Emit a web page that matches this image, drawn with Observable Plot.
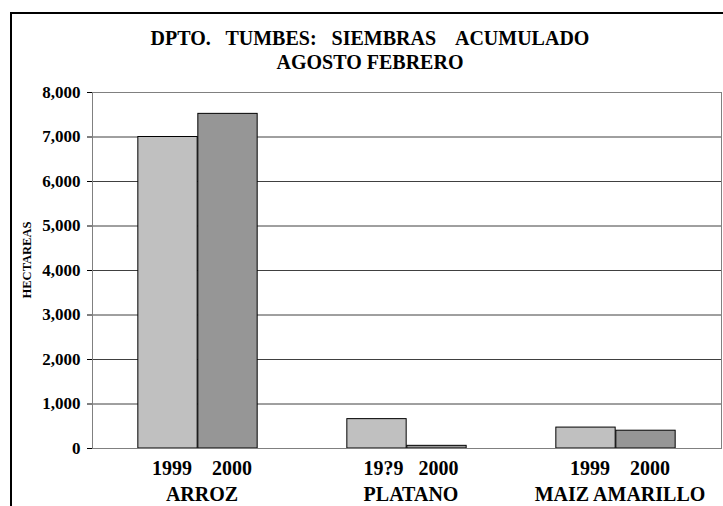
<!DOCTYPE html>
<html><head><meta charset="utf-8">
<script src="https://cdn.jsdelivr.net/npm/d3@7"></script>
<script src="https://cdn.jsdelivr.net/npm/@observablehq/plot@0.6"></script>
<style>
body{margin:0;background:#fff;}
#wrap{position:relative;width:723px;height:506px;overflow:hidden;font-family:"Liberation Serif","Times New Roman",serif;font-weight:bold;color:#000;}
#border{position:absolute;left:10px;top:12px;width:800px;height:600px;border-top:2px solid #000;border-left:2px solid #000;}
#title{position:absolute;left:370px;top:26px;transform:translateX(-50%);font-size:20px;line-height:24px;text-align:center;white-space:pre;}
#ylab{position:absolute;left:27px;top:260px;transform:translate(-50%,-50%) rotate(-90deg);font-size:12.5px;white-space:nowrap;}
#chart{position:absolute;left:0;top:0;}
svg text{white-space:pre;}
</style></head>
<body>
<div id="wrap">
  <div id="border"></div>
  <div id="chart"></div>
  <div id="title">DPTO.   TUMBES:   SIEMBRAS    ACUMULADO
AGOSTO FEBRERO</div>
  <div id="ylab">HECTAREAS</div>
</div>
<script>
const crops = ["ARROZ", "PLATANO", "MAIZ AMARILLO"];
const years = ["1999", "2000"];
const values1999 = [7000, 660, 470];
const values2000 = [7520, 60, 400];
const yearLabels = ["1999    2000", "19?9   2000", "1999    2000"];
const yTicks = [0, 1000, 2000, 3000, 4000, 5000, 6000, 7000, 8000];

const W = 723, H = 506, mL = 92, mR = 2, mT = 92, mB = 58;
const bw = (W - mL - mR) / crops.length;
const barW = 60;

const rows1999 = crops.map((c, i) => ({crop: c, year: years[0], value: values1999[i]}));
const rows2000 = crops.map((c, i) => ({crop: c, year: years[1], value: values2000[i]}));

const chart = Plot.plot({
  width: W, height: H,
  marginLeft: mL, marginRight: mR, marginTop: mT, marginBottom: mB,
  style: {fontFamily: "'Liberation Serif', 'Times New Roman', serif", fontWeight: "bold", color: "#000", background: "transparent"},
  x: {type: "band", domain: crops, padding: 0, axis: null},
  y: {domain: [0, 8000], axis: null},
  marks: [
    Plot.ruleY(yTicks.slice(1, -1), {stroke: "#404040", strokeWidth: 1}),
    Plot.barY(rows1999, {x: "crop", y: "value", fill: "#c0c0c0", stroke: "#000", strokeWidth: 1,
      insetLeft: bw / 2 - barW, insetRight: bw / 2}),
    Plot.barY(rows2000, {x: "crop", y: "value", fill: "#969696", stroke: "#000", strokeWidth: 1,
      insetLeft: bw / 2, insetRight: bw / 2 - barW}),
    Plot.frame({stroke: "#808080", strokeWidth: 1}),
    Plot.axisY(yTicks, {tickSize: 5, tickPadding: 7, tickFormat: d3.format(","), fontSize: 17, fontWeight: "bold", label: null}),
    Plot.text(crops, {x: d => d, text: (d, i) => yearLabels[i], frameAnchor: "bottom", dy: 26, dx: 4, fontSize: 20, fontWeight: "bold"}),
    Plot.text(crops, {x: d => d, text: d => d, frameAnchor: "bottom", dy: 52, dx: 4, fontSize: 20, fontWeight: "bold"})
  ]
});
document.getElementById("chart").appendChild(chart);
</script>
</body></html>
